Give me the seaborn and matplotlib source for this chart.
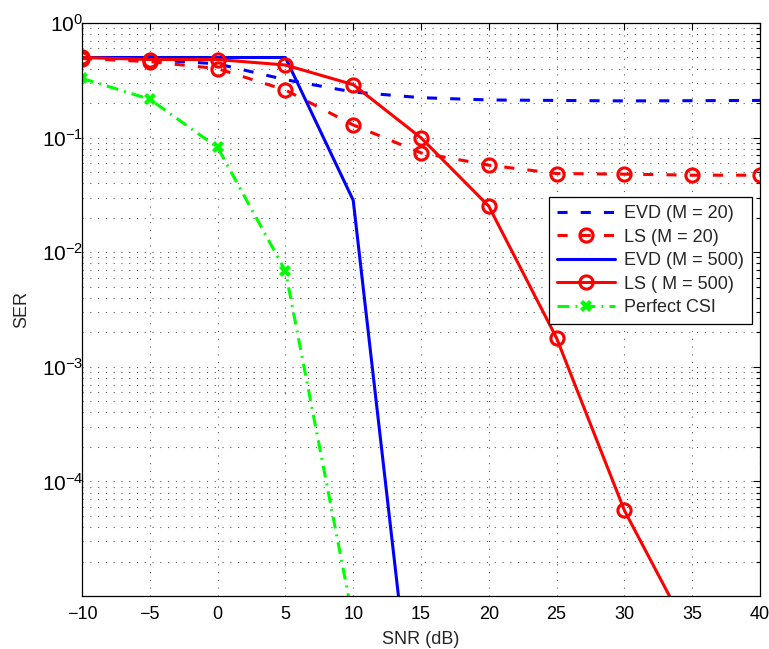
import numpy as np
import pandas as pd
import matplotlib
matplotlib.use("Agg")
import matplotlib.pyplot as plt
import seaborn as sns
from matplotlib.ticker import LogLocator, NullFormatter, FixedLocator, LogFormatterMathtext

# SNR grid (dB)
snr = [-10, -5, 0, 5, 10, 15, 20, 25, 30, 35, 40]

# Symbol error rates per scheme
ser_evd_20 = [0.50, 0.48, 0.44, 0.32, 0.25, 0.223, 0.213, 0.211, 0.209, 0.210, 0.211]
ser_ls_20 = [0.49, 0.46, 0.40, 0.26, 0.129, 0.0736, 0.0575, 0.0486, 0.048, 0.047, 0.047]
snr_evd_500 = [-10, -5, 0, 5, 10, 15]
ser_evd_500 = [0.50, 0.50, 0.50, 0.50, 0.0284, 1.9e-7]
snr_ls_500 = [-10, -5, 0, 5, 10, 15, 20, 25, 30, 35]
ser_ls_500 = [0.50, 0.48, 0.48, 0.43, 0.29, 0.0996, 0.0252, 0.00178, 5.58e-5, 4.2e-6]
snr_perfect = [-10, -5, 0, 5, 10]
ser_perfect = [0.329, 0.216, 0.082, 0.00687, 6.1e-6]

labels = ["EVD (M = 20)", "LS (M = 20)", "EVD (M = 500)", "LS ( M = 500)", "Perfect CSI"]

sns.set_style("white")
plt.rcParams["font.family"] = ["Liberation Sans", "DejaVu Sans"]
plt.rcParams["mathtext.fontset"] = "custom"
plt.rcParams["mathtext.rm"] = "Liberation Sans"
plt.rcParams["mathtext.it"] = "Liberation Sans:italic"
plt.rcParams["mathtext.bf"] = "Liberation Sans:bold"

fig = plt.figure(figsize=(7.69, 6.49), dpi=100)
ax = fig.add_axes([82 / 769, 1 - 596 / 649, (760 - 82) / 769, (596 - 23) / 649])

lw = 2.2
series = [
    (snr, ser_evd_20, labels[0], "#0000ff", (3.3, 4.3), None),
    (snr, ser_ls_20, labels[1], "#ff0000", (3.3, 4.3), "o"),
    (snr_evd_500, ser_evd_500, labels[2], "#0000ff", None, None),
    (snr_ls_500, ser_ls_500, labels[3], "#ff0000", None, "o"),
    (snr_perfect, ser_perfect, labels[4], "#00ff00", (3.9, 2.0, 0.6, 2.0), "X"),
]

for x, y, lab, col, dash, mk in series:
    df = pd.DataFrame({"SNR": x, "SER": y})
    kw = dict(color=col, linewidth=lw, label=lab)
    if mk == "o":
        kw.update(marker="o", markersize=9.5, markerfacecolor="none",
                  markeredgecolor=col, markeredgewidth=2.2)
    elif mk == "X":
        kw.update(marker="X", markersize=8, markerfacecolor=col,
                  markeredgecolor=col, markeredgewidth=0)
    sns.lineplot(data=df, x="SNR", y="SER", ax=ax, **kw)
    line = ax.lines[-1]
    if dash is not None:
        line.set_dashes(dash)

ax.set_yscale("log")
ax.set_xlim(-10, 40)
ax.set_ylim(1e-5, 1)

ax.xaxis.set_major_locator(FixedLocator(list(range(-10, 41, 5))))
ax.yaxis.set_major_locator(FixedLocator([1e-4, 1e-3, 1e-2, 1e-1, 1e0]))
ax.yaxis.set_major_formatter(LogFormatterMathtext())
ax.yaxis.set_minor_locator(LogLocator(base=10, subs=np.arange(2, 10), numticks=20))
ax.yaxis.set_minor_formatter(NullFormatter())

ax.tick_params(axis="both", which="both", direction="in", top=True, right=True,
               colors="black", width=0.8)
ax.tick_params(axis="x", which="major", length=5, pad=7, labelsize=13)
ax.tick_params(axis="y", which="major", length=5, pad=-1, labelsize=15)
ax.tick_params(axis="y", which="minor", length=3)

grid_kw = dict(color="#333333", linestyle=(0, (1, 6)), linewidth=0.8, alpha=0.8)
ax.grid(True, which="major", axis="both", **grid_kw)
ax.grid(True, which="minor", axis="y", **grid_kw)
ax.set_axisbelow(True)

for s in ax.spines.values():
    s.set_color("black")
    s.set_linewidth(0.9)

ax.set_xlabel("SNR (dB)", fontsize=13, labelpad=6)
ax.set_ylabel("SER", fontsize=13, labelpad=8)

leg = ax.legend(loc="upper right", bbox_to_anchor=(752 / 769, 1 - 197 / 649),
                bbox_transform=fig.transFigure, fontsize=13, frameon=True,
                fancybox=False, edgecolor="black", framealpha=1,
                handlelength=3.2, handletextpad=0.5, labelspacing=0.36,
                borderpad=0.45, borderaxespad=0)
leg.get_frame().set_linewidth(0.9)

fig.savefig("out.png", dpi=100, facecolor="white")
